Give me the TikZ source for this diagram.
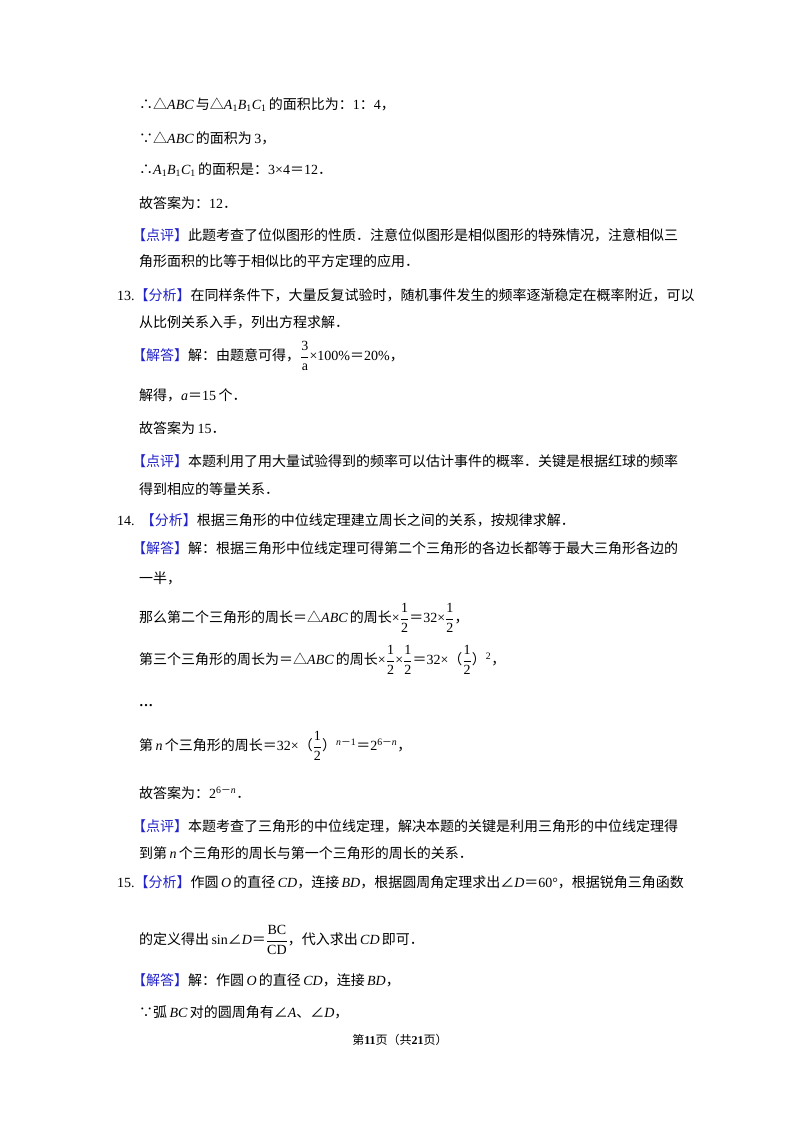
\documentclass[tikz,border=0pt]{standalone}
\usepackage{fontspec}
\setmainfont{Noto Sans CJK SC}
\newfontfamily\cjk{Noto Sans CJK SC}
\newfontfamily\serif{Liberation Serif}
\newcommand{\m}[1]{{\serif\itshape #1}}
\newcommand{\n}[1]{{\serif #1}}
\newcommand{\mn}{{\cjk －}}
\definecolor{bl}{HTML}{2323C8}
\newcommand{\tg}[1]{\textcolor{bl}{【#1】}}
\newcommand{\fr}[2]{$\displaystyle{\hbox{\serif #1}\over\hbox{\serif #2}}$}
\begin{document}
\begin{tikzpicture}[x=1pt,y=-1pt,tx/.style={anchor=west,inner sep=0pt,font=\fontsize{14}{18}\selectfont}]
\useasboundingbox (0,0) rectangle (800,1132);
\fill[white] (0,0) rectangle (800,1132);
\node[tx] (l1) at (139,105) {∴△\m{ABC}\,与△\m{A}\n{\textsubscript{1}}\m{B}\n{\textsubscript{1}}\m{C}\n{\textsubscript{1}}\,的面积比为：\n{1}：\n{4}，};
\node[tx] (l2) at (139,138) {∵△\m{ABC}\,的面积为\,\n{3}，};
\node[tx] (l3) at (139,170) {∴\m{A}\n{\textsubscript{1}}\m{B}\n{\textsubscript{1}}\m{C}\n{\textsubscript{1}}\,的面积是：\n{3×4}＝\n{12}．};
\node[tx] (l4) at (139,203) {故答案为：\n{12}．};
\node[tx] (l5) at (132,235) {\tg{点评}此题考查了位似图形的性质．注意位似图形是相似图形的特殊情况，注意相似三};
\node[tx] (l6) at (139,261) {角形面积的比等于相似比的平方定理的应用．};
\node[tx] (l7) at (117,295) {\n{13.}\tg{分析}在同样条件下，大量反复试验时，随机事件发生的频率逐渐稳定在概率附近，可以};
\node[tx] (l8) at (139,322) {从比例关系入手，列出方程求解．};
\node[tx] (l9) at (132,356) {\tg{解答}解：由题意可得，\fr{3}{a}\n{×100\%}＝\n{20\%}，};
\node[tx] (l10) at (139,395) {解得，\m{a}＝\n{15}\,个．};
\node[tx] (l11) at (139,428) {故答案为\,\n{15}．};
\node[tx] (l12) at (132,461) {\tg{点评}本题利用了用大量试验得到的频率可以估计事件的概率．关键是根据红球的频率};
\node[tx] (l13) at (139,489) {得到相应的等量关系．};
\node[tx] (l14) at (117,520) {\n{14.}\ \ \tg{分析}根据三角形的中位线定理建立周长之间的关系，按规律求解．};
\node[tx] (l15) at (132,548) {\tg{解答}解：根据三角形中位线定理可得第二个三角形的各边长都等于最大三角形各边的};
\node[tx] (l16) at (139,578) {一半，};
\node[tx] (l17) at (139,618) {那么第二个三角形的周长＝△\m{ABC}\,的周长\n{×}\fr{1}{2}＝\n{32×}\fr{1}{2}，};
\node[tx] (l18) at (139,660) {第三个三角形的周长为＝△\m{ABC}\,的周长\n{×}\fr{1}{2}\n{×}\fr{1}{2}＝\n{32×}（\fr{1}{2}）\n{\textsuperscript{2}}，};
\node[tx] (l19) at (139,706) {\n{\textbf{…}}};
\node[tx] (l20) at (139,746) {第\,\m{n}\,个三角形的周长＝\n{32×}（\fr{1}{2}）\textsuperscript{\m{n}\mn\n{1}}＝\n{2}\textsuperscript{\n{6}\mn\m{n}}，};
\node[tx] (l21) at (139,793) {故答案为：\n{2}\textsuperscript{\n{6}\mn\m{n}}．};
\node[tx] (l22) at (132,826) {\tg{点评}本题考查了三角形的中位线定理，解决本题的关键是利用三角形的中位线定理得};
\node[tx] (l23) at (139,853) {到第\,\m{n}\,个三角形的周长与第一个三角形的周长的关系．};
\node[tx] (l24) at (117,882) {\n{15.}\tg{分析}作圆\,\m{O}\,的直径\,\m{CD}，连接\,\m{BD}，根据圆周角定理求出∠\m{D}＝\n{60°}，根据锐角三角函数};
\node[tx] (l25) at (139,940) {的定义得出\,\n{sin}∠\m{D}＝\fr{BC}{CD}，代入求出\,\m{CD}\,即可．};
\node[tx] (l26) at (132,980) {\tg{解答}解：作圆\,\m{O}\,的直径\,\m{CD}，连接\,\m{BD}，};
\node[tx] (l27) at (139,1012) {∵弧\,\m{BC}\,对的圆周角有∠\m{A}、∠\m{D}，};
\node[inner sep=0pt,font=\fontsize{12}{14}\selectfont] (ft) at (400,1040) {第\textbf{\n{11}}页（共\textbf{\n{21}}页）};
\end{tikzpicture}
\end{document}
